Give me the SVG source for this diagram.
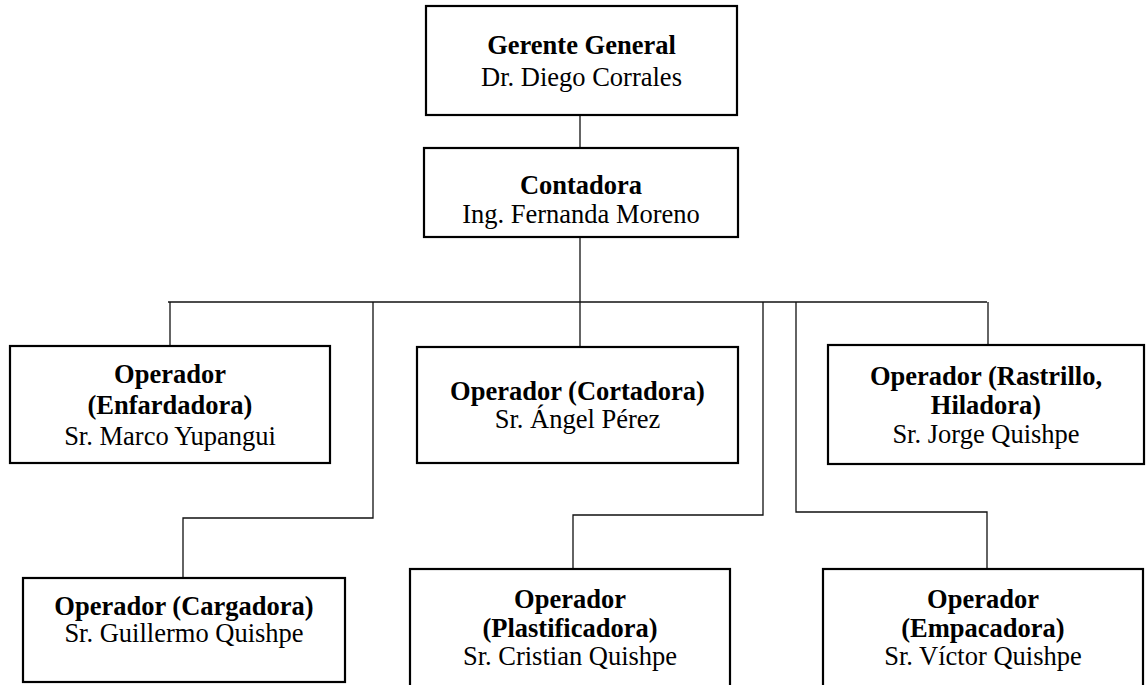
<svg xmlns="http://www.w3.org/2000/svg" width="1146" height="685" viewBox="0 0 1146 685">
<style>
.box{fill:#fff;stroke:#000;stroke-width:2.2}
.t{font-family:"Liberation Serif","Times New Roman",serif;font-size:26.5px;text-anchor:middle;fill:#000}
.b{font-weight:bold}
.c{fill:none;stroke:#111;stroke-width:1.3}
</style>
<rect width="1146" height="685" fill="#fff"/>
<g id="connectors">
<path class="c" d="M580 116V147"/>
<path class="c" d="M580 237V302"/>
<path class="c" d="M168 302H987"/>
<path class="c" d="M170 302V345"/>
<path class="c" d="M580 302V346"/>
<path class="c" d="M988 302V344"/>
<path class="c" d="M373 302V518H183V578"/>
<path class="c" d="M763 302V515H573V569"/>
<path class="c" d="M796 302V512H987V569"/>
</g>
<g id="gerente">
<rect class="box" x="426" y="6" width="311" height="109"/>
<text class="t b" x="581.5" y="54">Gerente General</text>
<text class="t" x="581.5" y="86">Dr. Diego Corrales</text>
</g>
<g id="contadora">
<rect class="box" x="424" y="148" width="314" height="89"/>
<text class="t b" x="581" y="194">Contadora</text>
<text class="t" x="581" y="223">Ing. Fernanda Moreno</text>
</g>
<g id="enfardadora">
<rect class="box" x="10" y="346" width="320" height="117"/>
<text class="t b" x="170" y="383">Operador</text>
<text class="t b" x="170" y="414">(Enfardadora)</text>
<text class="t" x="170" y="445">Sr. Marco Yupangui</text>
</g>
<g id="cortadora">
<rect class="box" x="417" y="347" width="321" height="116"/>
<text class="t b" x="577.5" y="400">Operador (Cortadora)</text>
<text class="t" x="577.5" y="428">Sr. Ángel Pérez</text>
</g>
<g id="rastrillo">
<rect class="box" x="828" y="345" width="316" height="119"/>
<text class="t b" x="986" y="385">Operador (Rastrillo,</text>
<text class="t b" x="986" y="414">Hiladora)</text>
<text class="t" x="986" y="443">Sr. Jorge Quishpe</text>
</g>
<g id="cargadora">
<rect class="box" x="23" y="578" width="322" height="104"/>
<text class="t b" x="184" y="615">Operador (Cargadora)</text>
<text class="t" x="184" y="642">Sr. Guillermo Quishpe</text>
</g>
<g id="plastificadora">
<rect class="box" x="410" y="569" width="320" height="125"/>
<text class="t b" x="570" y="608">Operador</text>
<text class="t b" x="570" y="637">(Plastificadora)</text>
<text class="t" x="570" y="665">Sr. Cristian Quishpe</text>
</g>
<g id="empacadora">
<rect class="box" x="823" y="569" width="320" height="125"/>
<text class="t b" x="983" y="608">Operador</text>
<text class="t b" x="983" y="637">(Empacadora)</text>
<text class="t" x="983" y="665">Sr. Víctor Quishpe</text>
</g>
</svg>
